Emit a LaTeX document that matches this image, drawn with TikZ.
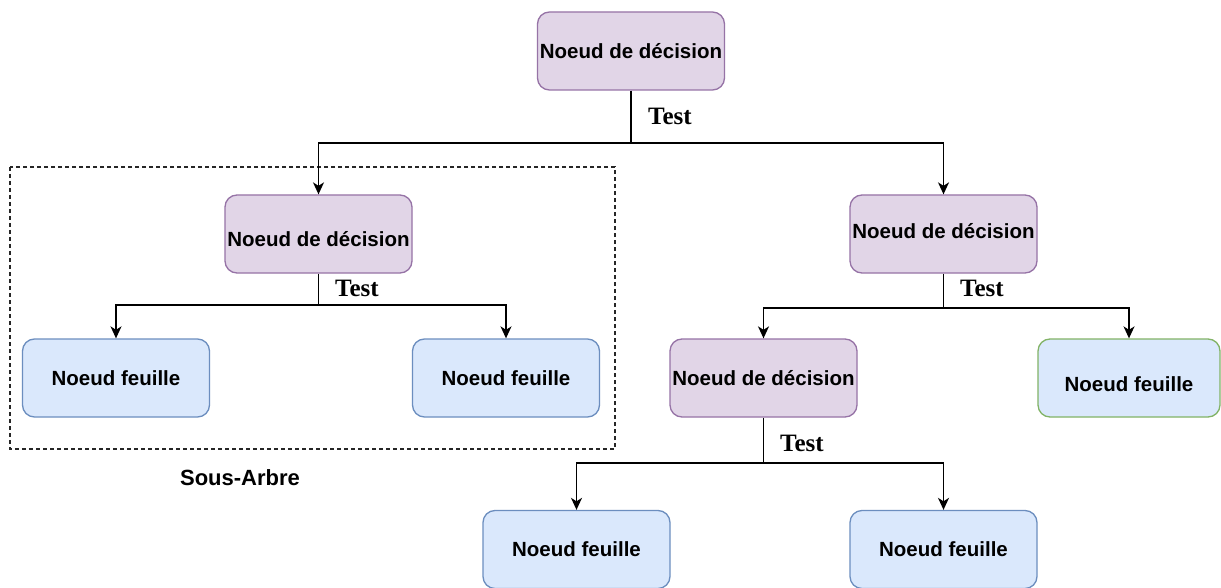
\documentclass[tikz,border=0pt]{standalone}
\usepackage{fontspec}
\setmainfont{Liberation Serif}
\setsansfont{Liberation Sans}
\usetikzlibrary{arrows.meta}
\definecolor{decfill}{HTML}{E1D5E7}
\definecolor{decdraw}{HTML}{9673A6}
\definecolor{leaffill}{HTML}{DAE8FC}
\definecolor{leafdraw}{HTML}{6C8EBF}
\definecolor{greendraw}{HTML}{82B366}
\begin{document}
\begin{tikzpicture}[x=1pt,y=-1pt,
  boxfont/.style={font=\sffamily\bfseries\fontsize{20.5}{24}\selectfont},
  box/.style={rounded corners=12pt,minimum width=187pt,minimum height=78pt,inner sep=0pt,
    line width=1.3pt,boxfont},
  decision/.style={box,fill=decfill,draw=decdraw},
  leaf/.style={box,fill=leaffill,draw=leafdraw},
  greenleaf/.style={box,fill=leaffill,draw=greendraw,minimum width=182pt},
  shifted/.style 2 args={label={[boxfont,inner sep=0pt,shift={(0,#1)}]center:#2}},
  testlbl/.style={anchor=west,inner sep=0pt,font=\rmfamily\bfseries\fontsize{25}{29}\selectfont},
  link/.style={line width=1.5pt,draw=black},
  arr/.style={link,-{Stealth[length=12pt,width=11pt,inset=3.5pt]}}]
\useasboundingbox (0,0) rectangle (1221,588);
\clip (0,0) rectangle (1221,588);
\fill[white] (0,0) rectangle (1221,588);

% sub-tree frame
\draw[line width=1.1pt,dash pattern=on 4pt off 3pt,draw=black!85] (10,167) rectangle (615,449);
\node[font=\sffamily\bfseries\fontsize{22}{26}\selectfont] (sa) at (240,478) {Sous-Arbre};

% nodes
\node[decision] (root) at (631,51) {Noeud de décision};
\node[decision,shifted={5}{Noeud de décision}] (ld) at (318.5,234) {};
\node[decision,shifted={-3}{Noeud de décision}] (rd) at (943.5,234) {};
\node[leaf] (l1) at (116,378) {Noeud feuille};
\node[leaf] (l2) at (506,378) {Noeud feuille};
\node[decision] (rr) at (763.5,378) {Noeud de décision};
\node[greenleaf,shifted={6}{Noeud feuille}] (g) at (1129,378) {};
\node[leaf] (b1) at (576.5,549.5) {Noeud feuille};
\node[leaf] (b2) at (943.5,549.5) {Noeud feuille};

% branch junctions
\coordinate (j0) at (631,143);
\coordinate (j1) at (318.5,305);
\coordinate (j2) at (943.5,308);
\coordinate (j3) at (763.5,463);

% connectors
\draw[link] (root) -- (j0);
\draw[arr] (j0) -| (ld);
\draw[arr] (j0) -| (rd);
\draw[link] (ld) -- (j1);
\draw[arr] (j1) -| (l1);
\draw[arr] (j1) -| (l2);
\draw[link] (rd) -- (j2);
\draw[arr] (j2) -| (rr);
\draw[arr] (j2) -| (g);
\draw[link] (rr) -- (j3);
\draw[arr] (j3) -| (b1);
\draw[arr] (j3) -| (b2);

% test labels
\node[testlbl] (t0) at (648,116) {Test};
\node[testlbl] (t1) at (335,288) {Test};
\node[testlbl] (t2) at (960,288) {Test};
\node[testlbl] (t3) at (780,443) {Test};
\end{tikzpicture}
\end{document}
